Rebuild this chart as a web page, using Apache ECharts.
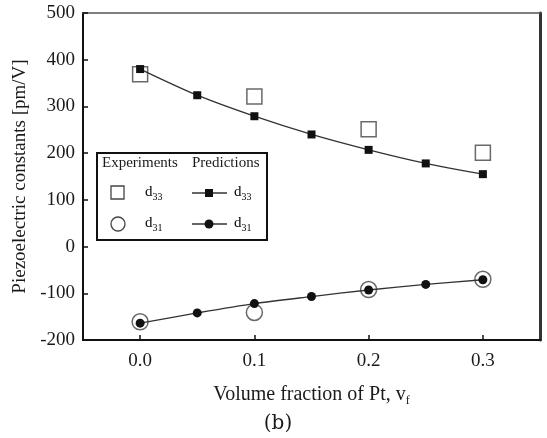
<!DOCTYPE html>
<html>
<head>
<meta charset="utf-8">
<script src="https://cdn.jsdelivr.net/npm/echarts@6/dist/echarts.min.js"></script>
<style>
  html, body { margin: 0; padding: 0; background: #fff; }
  #chart { width: 547px; height: 438px; }
</style>
</head>
<body>
<div id="chart"></div>
<script>
// volume fraction of Pt
var predX = [0, 0.05, 0.1, 0.15, 0.2, 0.25, 0.3];
var expX = [0, 0.1, 0.2, 0.3];
// predictions
var predD33 = [380, 324, 279, 240, 207, 178, 155];
var predD31 = [-164, -142, -122, -107, -93, -81, -71];
// experiments
var expD33 = [369, 321, 251, 201];
var expD31 = [-161, -141, -92, -70];
// tick labels
var xTicks = [0, 0.1, 0.2, 0.3];
var yMin = -200, yMax = 500, yStep = 100;

function pairs(xs, ys) {
    var out = [];
    for (var i = 0; i < xs.length; i++) out.push([xs[i], ys[i]]);
    return out;
}

var serif = 'Liberation Serif';
var chart = echarts.init(document.getElementById('chart'));

var subRich = {
    b: {fontFamily: serif, fontSize: 15, color: '#1a1a1a'},
    s: {fontFamily: serif, fontSize: 10, color: '#1a1a1a', padding: [9, 0, 0, 0]}
};

chart.setOption({
    animation: false,
    backgroundColor: '#fff',
    grid: {left: 83, top: 13, right: 7, bottom: 98},
    xAxis: [{
        type: 'value',
        min: -0.05, max: 0.35,
        name: 'Volume fraction of Pt, v{s|f}',
        nameLocation: 'middle',
        nameGap: 43,
        nameTextStyle: {
            fontFamily: serif, fontSize: 20, color: '#1a1a1a',
            rich: {s: {fontFamily: serif, fontSize: 12, color: '#1a1a1a', padding: [12, 0, 0, 0]}}
        },
        axisLine: {onZero: false, lineStyle: {color: '#111', width: 2}},
        axisTick: {inside: true, length: 5, customValues: xTicks, lineStyle: {color: '#111', width: 1.5}},
        axisLabel: {
            customValues: xTicks, margin: 12,
            fontFamily: serif, fontSize: 19, color: '#1a1a1a',
            formatter: function (v) { return v.toFixed(1); }
        },
        splitLine: {show: false}
    }, {
        type: 'value', position: 'top',
        min: -0.05, max: 0.35,
        axisLine: {show: true, onZero: false, lineStyle: {color: '#555', width: 1.5}},
        axisTick: {show: false}, axisLabel: {show: false}, splitLine: {show: false}
    }],
    yAxis: [{
        type: 'value',
        min: yMin, max: yMax, interval: yStep,
        name: 'Piezoelectric constants [pm/V]',
        nameLocation: 'middle',
        nameGap: 47,
        nameTextStyle: {fontFamily: serif, fontSize: 19, color: '#1a1a1a'},
        axisLine: {show: true, onZero: false, lineStyle: {color: '#111', width: 2}},
        axisTick: {show: true, inside: true, length: 5, lineStyle: {color: '#111', width: 1.5}},
        axisLabel: {margin: 8, fontFamily: serif, fontSize: 19, color: '#1a1a1a'},
        splitLine: {show: false}
    }, {
        type: 'value', position: 'right',
        min: yMin, max: yMax, interval: yStep,
        axisLine: {show: true, onZero: false, lineStyle: {color: '#333', width: 3}},
        axisTick: {show: false}, axisLabel: {show: false}, splitLine: {show: false}
    }],
    series: [{
        name: 'exp d33', type: 'scatter', z: 2,
        data: pairs(expX, expD33),
        symbol: 'rect', symbolSize: 15,
        itemStyle: {color: 'rgba(255,255,255,0)', borderColor: '#444', borderWidth: 1.5}
    }, {
        name: 'exp d31', type: 'scatter', z: 2,
        data: pairs(expX, expD31),
        symbol: 'circle', symbolSize: 16,
        itemStyle: {color: 'rgba(255,255,255,0)', borderColor: '#444', borderWidth: 1.5}
    }, {
        name: 'pred d33', type: 'line', z: 3,
        data: pairs(predX, predD33),
        smooth: 0.3,
        symbol: 'rect', symbolSize: 8,
        itemStyle: {color: '#111'},
        lineStyle: {color: '#333', width: 1.3}
    }, {
        name: 'pred d31', type: 'line', z: 3,
        data: pairs(predX, predD31),
        smooth: 0.3,
        symbol: 'circle', symbolSize: 9,
        itemStyle: {color: '#111'},
        lineStyle: {color: '#333', width: 1.3}
    }],
    graphic: [
        {type: 'rect', shape: {x: 97, y: 153, width: 170, height: 87},
            style: {fill: '#fff', stroke: '#111', lineWidth: 2}},
        {type: 'text', x: 102, y: 156, style: {text: 'Experiments', fontFamily: serif, fontSize: 15, fill: '#1a1a1a'}},
        {type: 'text', x: 192, y: 156, style: {text: 'Predictions', fontFamily: serif, fontSize: 15, fill: '#1a1a1a'}},
        // row d33
        {type: 'rect', shape: {x: 111, y: 186, width: 13, height: 13},
            style: {fill: 'none', stroke: '#444', lineWidth: 1.3}},
        {type: 'text', x: 145, y: 183, style: {text: '{b|d}{s|33}', rich: subRich}},
        {type: 'line', shape: {x1: 192, y1: 193, x2: 227, y2: 193}, style: {stroke: '#333', lineWidth: 1.3}},
        {type: 'rect', shape: {x: 205, y: 189, width: 8, height: 8}, style: {fill: '#111'}},
        {type: 'text', x: 234, y: 183, style: {text: '{b|d}{s|33}', rich: subRich}},
        // row d31
        {type: 'circle', shape: {cx: 118, cy: 224, r: 7}, style: {fill: 'none', stroke: '#444', lineWidth: 1.3}},
        {type: 'text', x: 145, y: 214, style: {text: '{b|d}{s|31}', rich: subRich}},
        {type: 'line', shape: {x1: 192, y1: 224, x2: 227, y2: 224}, style: {stroke: '#333', lineWidth: 1.3}},
        {type: 'circle', shape: {cx: 209, cy: 224, r: 4.5}, style: {fill: '#111'}},
        {type: 'text', x: 234, y: 214, style: {text: '{b|d}{s|31}', rich: subRich}},
        // panel label
        {type: 'text', x: 278, y: 424, style: {text: '(b)', fontFamily: 'DejaVu Serif', fontSize: 20,
            fill: '#1a1a1a', align: 'center', verticalAlign: 'middle'}}
    ]
});
</script>
</body>
</html>
